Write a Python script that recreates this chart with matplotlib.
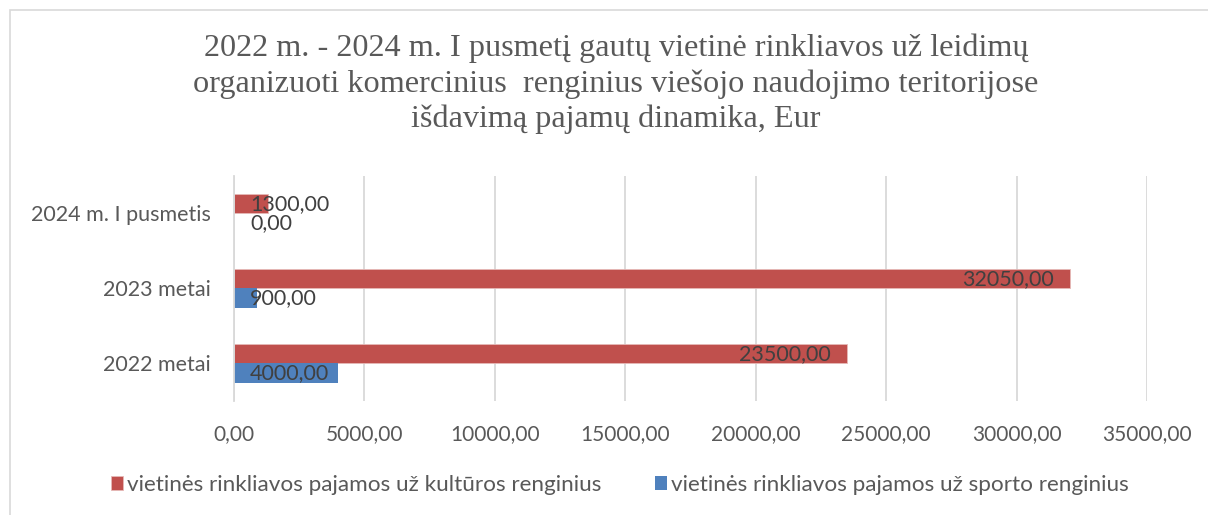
import numpy as np
import matplotlib.pyplot as plt
from matplotlib.patches import Rectangle

categories = ["2022 metai", "2023 metai", "2024 m. I pusmetis"]
kultura = [23500.00, 32050.00, 1300.00]
sportas = [4000.00, 900.00, 0.00]
series_names = ["vietinės rinkliavos pajamos už kultūros renginius",
                "vietinės rinkliavos pajamos už sporto renginius"]
x_ticks = [0, 5000, 10000, 15000, 20000, 25000, 30000, 35000]
title = ("2022 m. - 2024 m. I pusmetį gautų vietinė rinkliavos už leidimų\n"
         "organizuoti komercinius  renginius viešojo naudojimo teritorijose\n"
         "išdavimą pajamų dinamika, Eur")

RED = "#c0504d"
BLUE = "#4f81bd"
GREY = "#595959"
SANS = "Lato"


def fmt(v):
    return f"{v:.2f}".replace(".", ",")


fig = plt.figure(figsize=(12.08, 5.15), dpi=100)
ax = fig.add_axes([0.1937, 0.2214, 0.7558, 0.4369])

# chart frame (top and left edges visible)
fig.add_artist(Rectangle((10 / 1208, -0.1), 1.2, 1 - 10 / 515 + 0.1,
                         transform=fig.transFigure, fill=False,
                         edgecolor="#d9d9d9", linewidth=1.2))

y = np.arange(len(categories))
h = 0.256
ax.barh(y + h / 2, kultura, height=h, color=RED, edgecolor="#e6b9b8",
        linewidth=0.6, label=series_names[0])
ax.barh(y - h / 2, sportas, height=h, color=BLUE, label=series_names[1])

ax.set_xlim(0, 35000)
ax.set_ylim(-0.5, 2.5)
ax.set_xticks(x_ticks)
ax.set_xticklabels([fmt(t) for t in x_ticks], fontsize=15, family=SANS,
                   color=GREY)
ax.set_yticks(y)
ax.set_yticklabels(categories, fontsize=15.5, family=SANS, color=GREY)
ax.tick_params(axis="both", length=0)
ax.tick_params(axis="x", pad=17)
ax.tick_params(axis="y", pad=17)
ax.grid(axis="x", color="#d9d9d9", linewidth=1.3)
ax.set_axisbelow(True)
for s in ["top", "right", "bottom"]:
    ax.spines[s].set_visible(False)
ax.spines["left"].set_color("#d9d9d9")
ax.spines["left"].set_linewidth(1.3)

# data labels: inside end, but never left of the axis start
texts = []
for vals, off in [(kultura, h / 2), (sportas, -h / 2)]:
    for yi, v in zip(y, vals):
        t = ax.annotate(fmt(v), (v, yi + off), xytext=(-11.5, 0),
                        textcoords="offset points", ha="right", va="center",
                        fontsize=15.5, family=SANS, color="#404040")
        texts.append((t, yi + off))

fig.canvas.draw()
r = fig.canvas.get_renderer()
x0 = ax.transData.transform((0, 0))[0]
for t, yy in texts:
    bb = t.get_window_extent(r)
    if bb.x0 < x0 + 16:
        t.xy = (0, yy)
        t.set_ha("left")
        t.set_position((11.5, 0))

fig.text(0.51, 0.935, title, ha="center", va="top", fontsize=23.2,
         family="Liberation Serif", color=GREY, linespacing=1.27)

fig.legend(loc="center", bbox_to_anchor=(0.513, 0.058), ncol=2,
           frameon=False, prop={"family": SANS, "size": 16.2},
           labelcolor=GREY, handlelength=0.55, handleheight=0.55,
           handletextpad=0.15, columnspacing=2.4)

fig.savefig("out.png")
